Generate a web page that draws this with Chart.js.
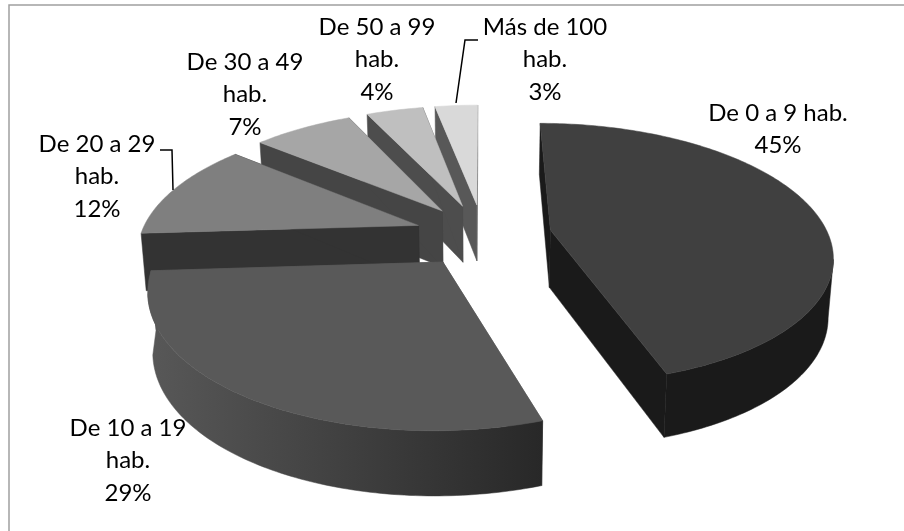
<!DOCTYPE html>
<html>
<head>
<meta charset="utf-8">
<style>
  html, body { margin: 0; padding: 0; background: #fff; }
  canvas { display: block; }
</style>
<script src="https://cdn.jsdelivr.net/npm/chart.js@4"></script>
</head>
<body>
<canvas id="myChart" width="904" height="531"></canvas>
<script>
var categorias = [['De 0 a 9 hab.'], ['De 10 a 19', 'hab.'], ['De 20 a 29', 'hab.'], ['De 30 a 49', 'hab.'], ['De 50 a 99', 'hab.'], ['Más de 100', 'hab.']];
var valores = [45, 29, 12, 7, 4, 3];
var porcentajes = ['45%', '29%', '12%', '7%', '4%', '3%'];

var colores = ['#404040', '#595959', '#7f7f7f', '#a6a6a6', '#bfbfbf', '#d9d9d9'];
// pared lateral de cada porcion: color izquierda -> derecha
var paredIzq = ['#1a1a1a', '#585858', '#333333', '#454545', '#4d4d4d', '#585858'];
var paredDer = ['#1a1a1a', '#282828', '#333333', '#454545', '#4d4d4d', '#585858'];

// centro x y primera linea de cada etiqueta
var posEtiquetas = [[778, 113], [128, 428], [97, 144], [245, 62], [377, 27], [545, 27]];
var altoLinea = 32.5;
var lineasGuia = [
  [[160, 150], [172, 150], [173, 190]],
  [[478, 40], [465, 40], [456, 103]]
];

// vista 3D con perspectiva del pie plano
var vista = { rx: 278, ry: 127.5, k: 0.179, explode: 0.247, alto: 57.5, altoK: 0.111, xAbajo: 0.015 };

function proyectar(arc, u, v, z) {
  var w = 1 - vista.k * v;
  return {
    x: arc.x + vista.rx * u / w * (1 - vista.xAbajo * z),
    y: arc.y + vista.ry * v / w + z * vista.alto * (1 + vista.altoK * v)
  };
}

function poligono(ctx, puntos, color) {
  ctx.beginPath();
  puntos.forEach(function (p, i) {
    if (i == 0) ctx.moveTo(p.x, p.y); else ctx.lineTo(p.x, p.y);
  });
  ctx.closePath();
  ctx.fillStyle = color;
  ctx.strokeStyle = color;
  ctx.lineWidth = 0.5;
  ctx.fill();
  ctx.stroke();
}

function dibujarPorcion(ctx, arc, i) {
  var medio = (arc.startAngle + arc.endAngle) / 2;
  var ox = vista.explode * Math.cos(medio);
  var oy = vista.explode * Math.sin(medio);
  var pasos = Math.max(8, Math.round((arc.endAngle - arc.startAngle) * 60));
  var borde = [];
  for (var n = 0; n <= pasos; n++) {
    var a = arc.startAngle + (arc.endAngle - arc.startAngle) * n / pasos;
    borde.push([ox + Math.cos(a), oy + Math.sin(a)]);
  }
  var p = function (q, z) { return proyectar(arc, q[0], q[1], z); };
  var apice = [ox, oy];

  // paredes rectas
  [borde[0], borde[pasos]].forEach(function (q) {
    poligono(ctx, [p(apice, 0), p(q, 0), p(q, 1), p(apice, 1)], paredIzq[i]);
  });

  // pared curva, solo el tramo que mira al frente
  var xs = borde.map(function (q) { return p(q, 0).x; });
  var frente = borde.filter(function (q, s) { return s < pasos && xs[s + 1] < xs[s]; });
  if (frente.length) {
    frente.push(borde[pasos]);
    var grad = ctx.createLinearGradient(Math.min.apply(null, xs), 0, Math.max.apply(null, xs), 0);
    grad.addColorStop(0, paredIzq[i]);
    grad.addColorStop(1, paredDer[i]);
    var arriba = frente.map(function (q) { return p(q, 0); });
    var abajo = frente.map(function (q) { return p(q, 1); }).reverse();
    poligono(ctx, arriba.concat(abajo), grad);
  }

  // cara de arriba
  poligono(ctx, [p(apice, 0)].concat(borde.map(function (q) { return p(q, 0); })), arc.options.backgroundColor);
}

var pie3d = {
  id: 'pie3d',
  beforeDatasetsDraw: function (chart) {
    var ctx = chart.ctx;
    ctx.save();
    ctx.strokeStyle = '#a0a0a0';
    ctx.lineWidth = 1.5;
    ctx.beginPath();
    ctx.moveTo(9, 531);
    ctx.lineTo(9, 5);
    ctx.lineTo(904, 5);
    ctx.stroke();
    ctx.restore();
  },
  beforeDatasetDraw: function (chart, args) {
    var ctx = chart.ctx;
    var arcs = args.meta.data;
    var orden = arcs.map(function (a, i) { return i; });
    // de atras hacia adelante
    orden.sort(function (a, b) {
      return Math.sin((arcs[a].startAngle + arcs[a].endAngle) / 2) - Math.sin((arcs[b].startAngle + arcs[b].endAngle) / 2);
    });
    ctx.save();
    orden.forEach(function (i) { dibujarPorcion(ctx, arcs[i], i); });
    ctx.restore();
    return false;
  },
  afterDatasetsDraw: function (chart) {
    var ctx = chart.ctx;
    ctx.save();
    ctx.fillStyle = '#000';
    ctx.font = '24px Lato';
    ctx.textAlign = 'center';
    ctx.textBaseline = 'middle';
    categorias.forEach(function (lineas, i) {
      var todas = lineas.concat([porcentajes[i]]);
      todas.forEach(function (t, n) {
        ctx.fillText(t, posEtiquetas[i][0], posEtiquetas[i][1] + n * altoLinea);
      });
    });
    ctx.strokeStyle = '#000';
    ctx.lineWidth = 1.5;
    lineasGuia.forEach(function (l) {
      ctx.beginPath();
      l.forEach(function (q, i) {
        if (i == 0) ctx.moveTo(q[0], q[1]); else ctx.lineTo(q[0], q[1]);
      });
      ctx.stroke();
    });
    ctx.restore();
  }
};

var myChart = new Chart(document.getElementById('myChart'), {
  type: 'pie',
  data: {
    labels: categorias,
    datasets: [{ data: valores, backgroundColor: colores, borderWidth: 0 }]
  },
  options: {
    responsive: false,
    animation: false,
    layout: { padding: { left: 62, right: 0, top: 0, bottom: 61 } },
    plugins: { legend: { display: false }, tooltip: { enabled: false } }
  },
  plugins: [pie3d]
});
</script>
</body>
</html>
